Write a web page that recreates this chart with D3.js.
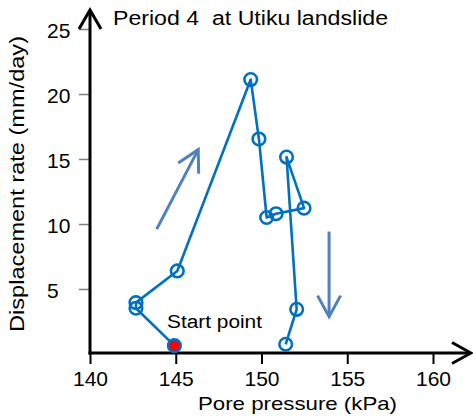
<!DOCTYPE html>
<html>
<head>
<meta charset="utf-8">
<script src="https://cdn.jsdelivr.net/npm/d3@7"></script>
<style>
  html, body { margin: 0; padding: 0; background: #fff; }
  svg { display: block; font-family: "Liberation Sans", Arial, sans-serif; }
  text { white-space: pre; }
</style>
</head>
<body>
<svg id="chart" width="473" height="419"></svg>
<script>
// Hysteresis loop of displacement rate vs pore pressure, Period 4
const porePressure = [144.92, 142.68, 142.68, 145.09, 149.37, 149.85, 150.30, 150.85, 152.48, 151.46, 152.05, 151.41];
const displacementRate = [0.64, 3.52, 3.95, 6.39, 21.11, 16.54, 10.50, 10.79, 11.22, 15.15, 3.44, 0.75];
const xTicks = [140, 145, 150, 155, 160];
const yTicks = [5, 10, 15, 20, 25];
// direction hints: rising limb then falling limb, [x0, y0, x1, y1] in data units
const risingArrow = [143.89, 9.61, 146.31, 15.72];
const fallingArrow = [153.94, 9.42, 153.94, 2.87];

const svg = d3.select("#chart");
const x = d3.scaleLinear().domain([140, 160]).range([90, 433]);
const y = d3.scaleLinear().domain([0, 25]).range([354, 29]);

const blue = "#0070C0";
const arrowBlue = "#4F81BD";
const font = "'Liberation Sans', Arial, sans-serif";

// y axis ticks and labels
const yAxis = svg.append("g")
  .attr("transform", "translate(90,0)")
  .call(d3.axisLeft(y).tickValues(yTicks).tickSize(11).tickFormat(d3.format("d")));
yAxis.select(".domain").remove();
yAxis.selectAll(".tick line").attr("stroke", "#7f7f7f").attr("stroke-width", 1.5);
yAxis.selectAll(".tick text")
  .attr("x", -43).attr("dy", "0.42em")
  .attr("text-anchor", "start")
  .attr("font-size", 21).attr("fill", "#000")
  .style("font-family", font);

// x axis ticks and labels
const xAxis = svg.append("g")
  .attr("transform", "translate(0,353)")
  .call(d3.axisBottom(x).tickValues(xTicks).tickSize(11).tickPadding(7.5).tickFormat(d3.format("d")));
xAxis.select(".domain").remove();
xAxis.selectAll(".tick line").attr("stroke", "#000").attr("stroke-width", 2);
xAxis.selectAll(".tick text")
  .attr("font-size", 21).attr("fill", "#000")
  .style("font-family", font);

// axis lines with open arrowheads
const axisG = svg.append("g").attr("stroke", "#000").attr("stroke-width", 3)
  .attr("fill", "none").attr("stroke-linecap", "butt");
axisG.append("line").attr("x1", 90).attr("y1", 354.5).attr("x2", 90).attr("y2", 10);
axisG.append("polyline").attr("points", "79,29 90,10 101,29").attr("stroke-linejoin", "miter");
axisG.append("line").attr("x1", 88.5).attr("y1", 353).attr("x2", 470).attr("y2", 353);
axisG.append("polyline").attr("points", "452,342.5 471,353 452,363.5").attr("stroke-linejoin", "miter");

// direction arrows
function drawArrow(a) {
  const x0 = x(a[0]), y0 = y(a[1]), x1 = x(a[2]), y1 = y(a[3]);
  const ang = Math.atan2(y1 - y0, x1 - x0);
  const len = 24, spread = 0.5;
  const g = svg.append("g").attr("stroke", arrowBlue).attr("stroke-width", 3)
    .attr("fill", "none").attr("stroke-linecap", "butt");
  g.append("line").attr("x1", x0).attr("y1", y0).attr("x2", x1).attr("y2", y1);
  g.append("polyline").attr("points", [
    [x1 - len * Math.cos(ang - spread), y1 - len * Math.sin(ang - spread)],
    [x1, y1],
    [x1 - len * Math.cos(ang + spread), y1 - len * Math.sin(ang + spread)]
  ].map(p => p.join(",")).join(" ")).attr("stroke-linejoin", "miter");
}
drawArrow(risingArrow);
drawArrow(fallingArrow);

// data path and markers
const pts = porePressure.map((p, i) => [p, displacementRate[i]]);
svg.append("path")
  .datum(pts)
  .attr("d", d3.line().x(d => x(d[0])).y(d => y(d[1])))
  .attr("fill", "none").attr("stroke", blue).attr("stroke-width", 2.6)
  .attr("stroke-linejoin", "round");

svg.append("g").selectAll("circle")
  .data(pts)
  .join("circle")
  .attr("cx", d => x(d[0]))
  .attr("cy", d => y(d[1]))
  .attr("r", 6.3)
  .attr("fill", (d, i) => i === 0 ? "#FF0000" : "none")
  .attr("stroke", blue)
  .attr("stroke-width", 2.6);

// labels
svg.append("text")
  .attr("x", 113).attr("y", 25)
  .attr("font-size", 20)
  .attr("textLength", 275).attr("lengthAdjust", "spacingAndGlyphs")
  .text("Period 4  at Utiku landslide");

svg.append("text")
  .attr("x", 167).attr("y", 328)
  .attr("font-size", 18)
  .attr("textLength", 95).attr("lengthAdjust", "spacingAndGlyphs")
  .text("Start point");

svg.append("text")
  .attr("x", 297.5).attr("y", 409.5)
  .attr("text-anchor", "middle")
  .attr("font-size", 19)
  .attr("textLength", 199).attr("lengthAdjust", "spacingAndGlyphs")
  .text("Pore pressure (kPa)");

svg.append("text")
  .attr("transform", "translate(24,184) rotate(-90)")
  .attr("text-anchor", "middle")
  .attr("font-size", 21)
  .attr("textLength", 296).attr("lengthAdjust", "spacingAndGlyphs")
  .text("Displacement rate (mm/day)");
</script>
</body>
</html>
